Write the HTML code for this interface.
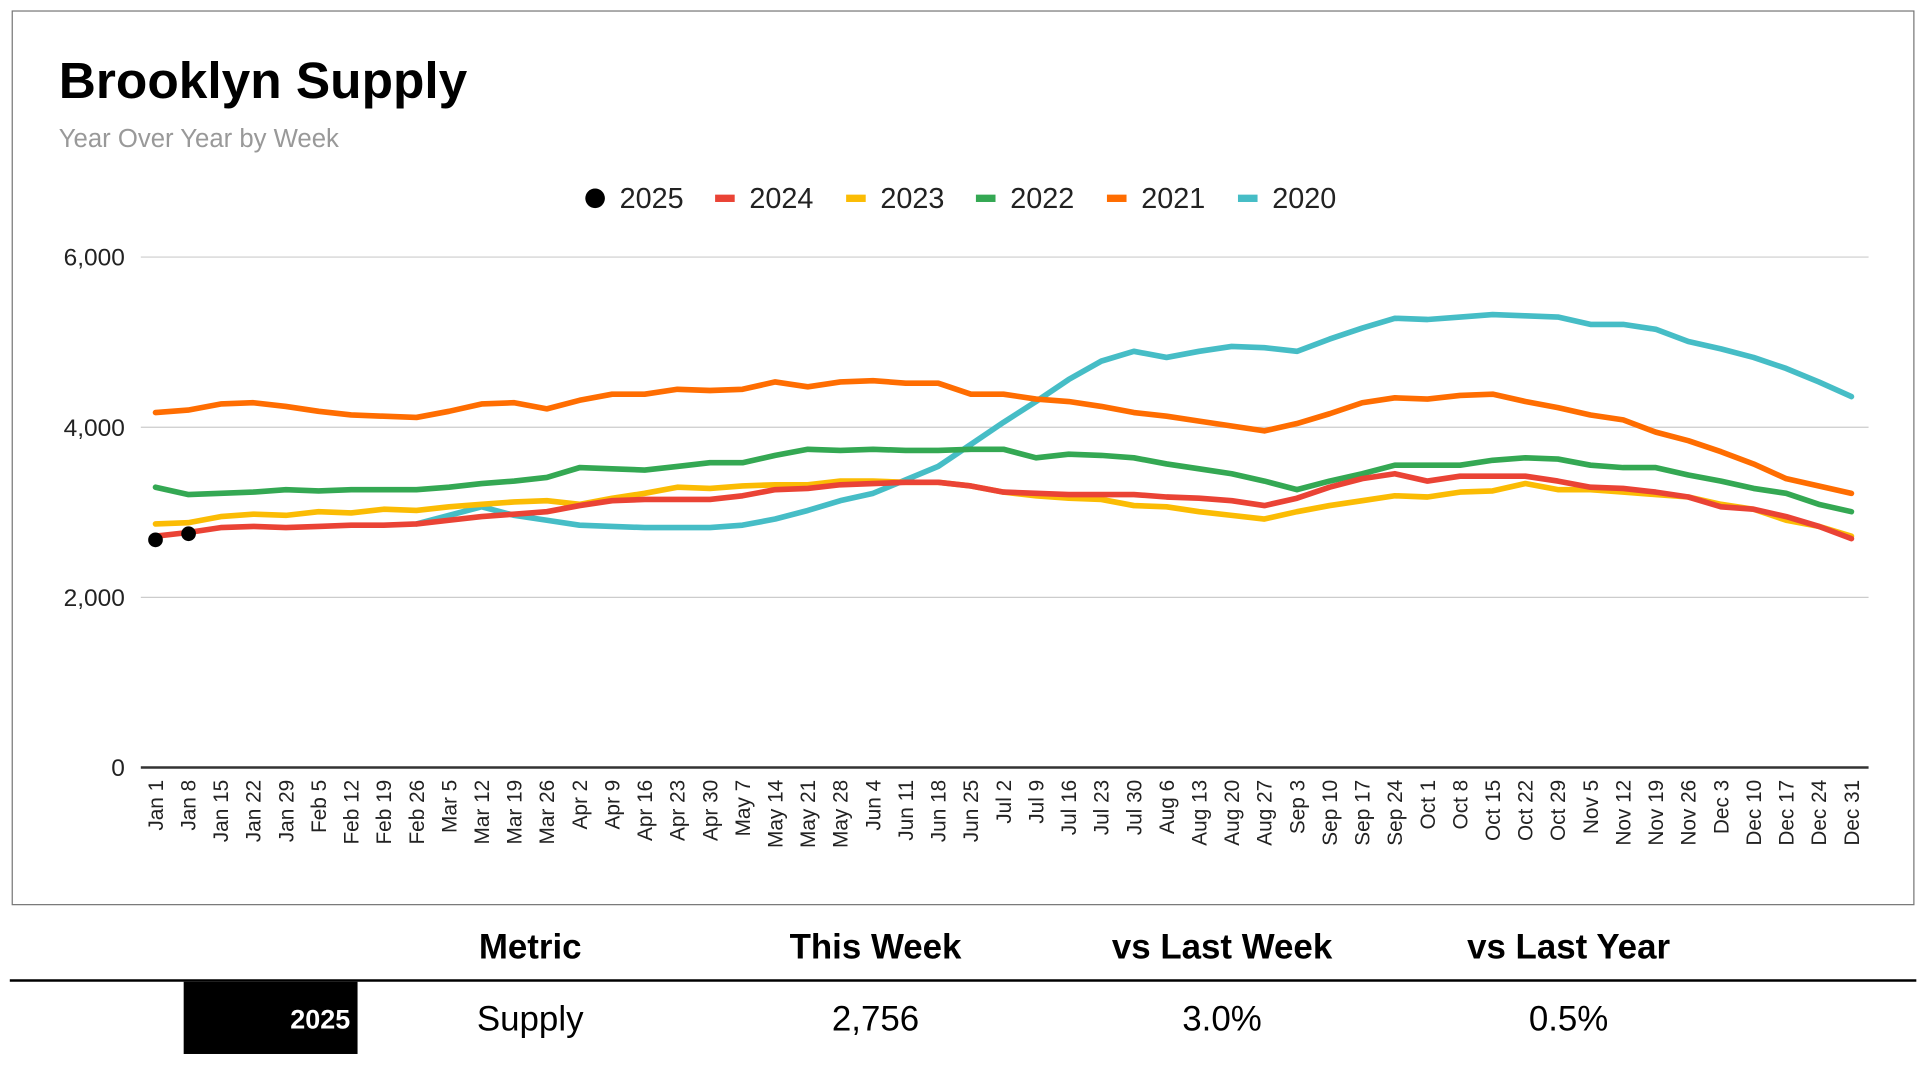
<!DOCTYPE html>
<html><head><meta charset="utf-8"><style>
html,body{margin:0;padding:0;background:#fff;}
svg{display:block;font-family:"Liberation Sans",Arial,sans-serif;}
</style></head><body>
<svg id="s" width="1920" height="1065" viewBox="0 0 1568 870" preserveAspectRatio="none" xmlns="http://www.w3.org/2000/svg">
<rect x="10" y="9" width="1553" height="730" fill="#fff" stroke="#777" stroke-width="1"/>
<text x="48" y="80" font-size="42" font-weight="bold" fill="#000">Brooklyn Supply</text>
<text x="48" y="120" font-size="21" fill="#999">Year Over Year by Week</text>
<g font-size="23.5" fill="#222">
<circle cx="486" cy="162" r="8" fill="#000"/><text x="506" y="170">2025</text>
<rect x="584" y="159" width="16" height="6" fill="#ea4335"/><text x="612" y="170">2024</text>
<rect x="691" y="159" width="16" height="6" fill="#fbbc04"/><text x="719" y="170">2023</text>
<rect x="797" y="159" width="16" height="6" fill="#34a853"/><text x="825" y="170">2022</text>
<rect x="904" y="159" width="16" height="6" fill="#ff6d01"/><text x="932" y="170">2021</text>
<rect x="1011" y="159" width="16" height="6" fill="#46bdc6"/><text x="1039" y="170">2020</text>
</g>
<g stroke="#ccc" stroke-width="1">
<line x1="115" y1="210" x2="1526" y2="210"/><line x1="115" y1="349" x2="1526" y2="349"/><line x1="115" y1="488" x2="1526" y2="488"/>
</g>
<line x1="115" y1="627" x2="1526" y2="627" stroke="#333" stroke-width="2"/>
<g font-size="20" fill="#222" text-anchor="end">
<text x="102" y="217">6,000</text><text x="102" y="356">4,000</text><text x="102" y="495">2,000</text><text x="102" y="634">0</text>
</g>
<g id="xl" font-size="17" fill="#222" text-anchor="end"></g>
<g id="ln" fill="none" stroke-width="4.6" stroke-linejoin="round" stroke-linecap="round"></g>
<circle cx="127" cy="441" r="6" fill="#000"/><circle cx="154" cy="436" r="6" fill="#000"/>
<line x1="8" y1="801" x2="1565" y2="801" stroke="#000" stroke-width="2"/>
<g font-size="28.5" font-weight="bold" text-anchor="middle" fill="#000">
<text x="433" y="783">Metric</text><text x="715" y="783">This Week</text><text x="998" y="783">vs Last Week</text><text x="1281" y="783">vs Last Year</text>
</g>
<rect x="150" y="802" width="142" height="59" fill="#000"/>
<text x="286" y="840" font-size="22" font-weight="bold" fill="#fff" text-anchor="end">2025</text>
<g font-size="28.5" text-anchor="middle" fill="#000">
<text x="433" y="842">Supply</text><text x="715" y="842">2,756</text><text x="998" y="842">3.0%</text><text x="1281" y="842">0.5%</text>
</g>
</svg>
<script>
var NS="http://www.w3.org/2000/svg";
var labels=["Jan 1","Jan 8","Jan 15","Jan 22","Jan 29","Feb 5","Feb 12","Feb 19","Feb 26","Mar 5","Mar 12","Mar 19","Mar 26","Apr 2","Apr 9","Apr 16","Apr 23","Apr 30","May 7","May 14","May 21","May 28","Jun 4","Jun 11","Jun 18","Jun 25","Jul 2","Jul 9","Jul 16","Jul 23","Jul 30","Aug 6","Aug 13","Aug 20","Aug 27","Sep 3","Sep 10","Sep 17","Sep 24","Oct 1","Oct 8","Oct 15","Oct 22","Oct 29","Nov 5","Nov 12","Nov 19","Nov 26","Dec 3","Dec 10","Dec 17","Dec 24","Dec 31"];
function X(i){return 127+i*1385/52;}
var xl=document.getElementById("xl");
labels.forEach(function(l,i){var t=document.createElementNS(NS,"text");var x=X(i)+6,y=637;t.setAttribute("x",x);t.setAttribute("y",y);t.setAttribute("transform","rotate(-90 "+x+" "+y+")");t.textContent=l;xl.appendChild(t);});
var S=[
["#46bdc6",8,[428,421,414,421,425,429,430,431,431,431,429,424,417,409,403,392,381,363,345,328,310,295,287,292,287,283,284,287,277,268,260,261,259,257,258,259,265,265,269,279,285,292,301,312,324]],
["#ff6d01",0,[337,335,330,329,332,336,339,340,341,336,330,329,334,327,322,322,318,319,318,312,316,312,311,313,313,322,322,326,328,332,337,340,344,348,352,346,338,329,325,326,323,322,328,333,339,343,353,360,369,379,391,397,403]],
["#34a853",0,[398,404,403,402,400,401,400,400,400,398,395,393,390,382,383,384,381,378,378,372,367,368,367,368,368,367,367,374,371,372,374,379,383,387,393,400,393,387,380,380,380,376,374,375,380,382,382,388,393,399,403,412,418]],
["#fbbc04",0,[428,427,422,420,421,418,419,416,417,414,412,410,409,412,407,403,398,399,397,396,396,393,393,394,394,397,402,405,407,408,413,414,418,421,424,418,413,409,405,406,402,401,395,400,400,402,404,406,412,416,425,430,438]],
["#ea4335",0,[438,435,431,430,431,430,429,429,428,425,422,420,418,413,409,408,408,408,405,400,399,396,395,394,394,397,402,403,404,404,404,406,407,409,413,407,398,391,387,393,389,389,389,393,398,399,402,406,414,416,422,430,440]]
];
var ln=document.getElementById("ln");
S.forEach(function(s){var p=s[2].map(function(y,k){return X(s[1]+k).toFixed(1)+","+y;}).join(" ");var e=document.createElementNS(NS,"polyline");e.setAttribute("points",p);e.setAttribute("stroke",s[0]);ln.appendChild(e);});
</script>
</body></html>
